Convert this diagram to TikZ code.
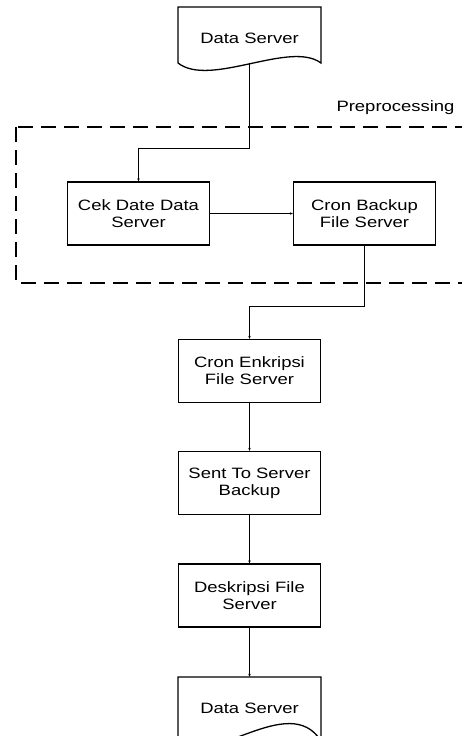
\documentclass[tikz,border=0pt]{standalone}
\usepackage{fontspec}
\setmainfont{Liberation Sans}[FakeStretch=1.23]
\usetikzlibrary{arrows.meta}

\begin{document}
\begin{tikzpicture}[x=1pt, y=-1pt,
    box/.style={draw, line width=1.3pt, minimum width=142pt, minimum height=63pt, align=center, font=\fontsize{15}{17}\selectfont},
    docbox/.style={minimum width=143pt, minimum height=56pt, text height=16.7pt, font=\fontsize{15}{17}\selectfont},
    flow/.style={line width=1.3pt, -{Stealth[length=3pt,width=2.5pt]}}]
\useasboundingbox (0,0) rectangle (462,736);

\draw[line width=1.3pt, dash pattern=on 15pt off 8pt] (16,127) rectangle (478,283);
\node[anchor=base east, font=\fontsize{15}{17}\selectfont] (preproc) at (458,111) {Preprocessing};

\node[docbox] (datatop) at (249.5,35) {Data Server};
\draw[line width=1.3pt] (178,63) -- (178,7) -- (321,7) -- (321,63)
  .. controls (290,40) and (210,88) .. (178,63);

\node[box] (cekdate) at (138.5,213.5) {Cek Date Data\\Server};
\node[box] (cronbackup) at (364.5,213.5) {Cron Backup\\File Server};
\node[box] (cronenkripsi) at (249.5,371) {Cron Enkripsi\\File Server};
\node[box] (sentbackup) at (249.5,483) {Sent To Server\\Backup};
\node[box] (deskripsi) at (249.5,595.5) {Deskripsi File\\Server};

\node[docbox] (databottom) at (249.5,705) {Data Server};
\draw[line width=1.3pt] (178,741) -- (178,677) -- (321,677) -- (321,741)
  .. controls (289,690) and (210,770) .. (178,741);

\draw[flow] (datatop.south) -- ++(0,85) -| (cekdate.north);
\draw[flow] (cekdate) -- (cronbackup);
\draw[flow] (cronbackup.south) -- ++(0,61) -| (cronenkripsi.north);
\draw[flow] (cronenkripsi) -- (sentbackup);
\draw[flow] (sentbackup) -- (deskripsi);
\draw[flow] (deskripsi) -- (databottom);
\end{tikzpicture}
\end{document}
